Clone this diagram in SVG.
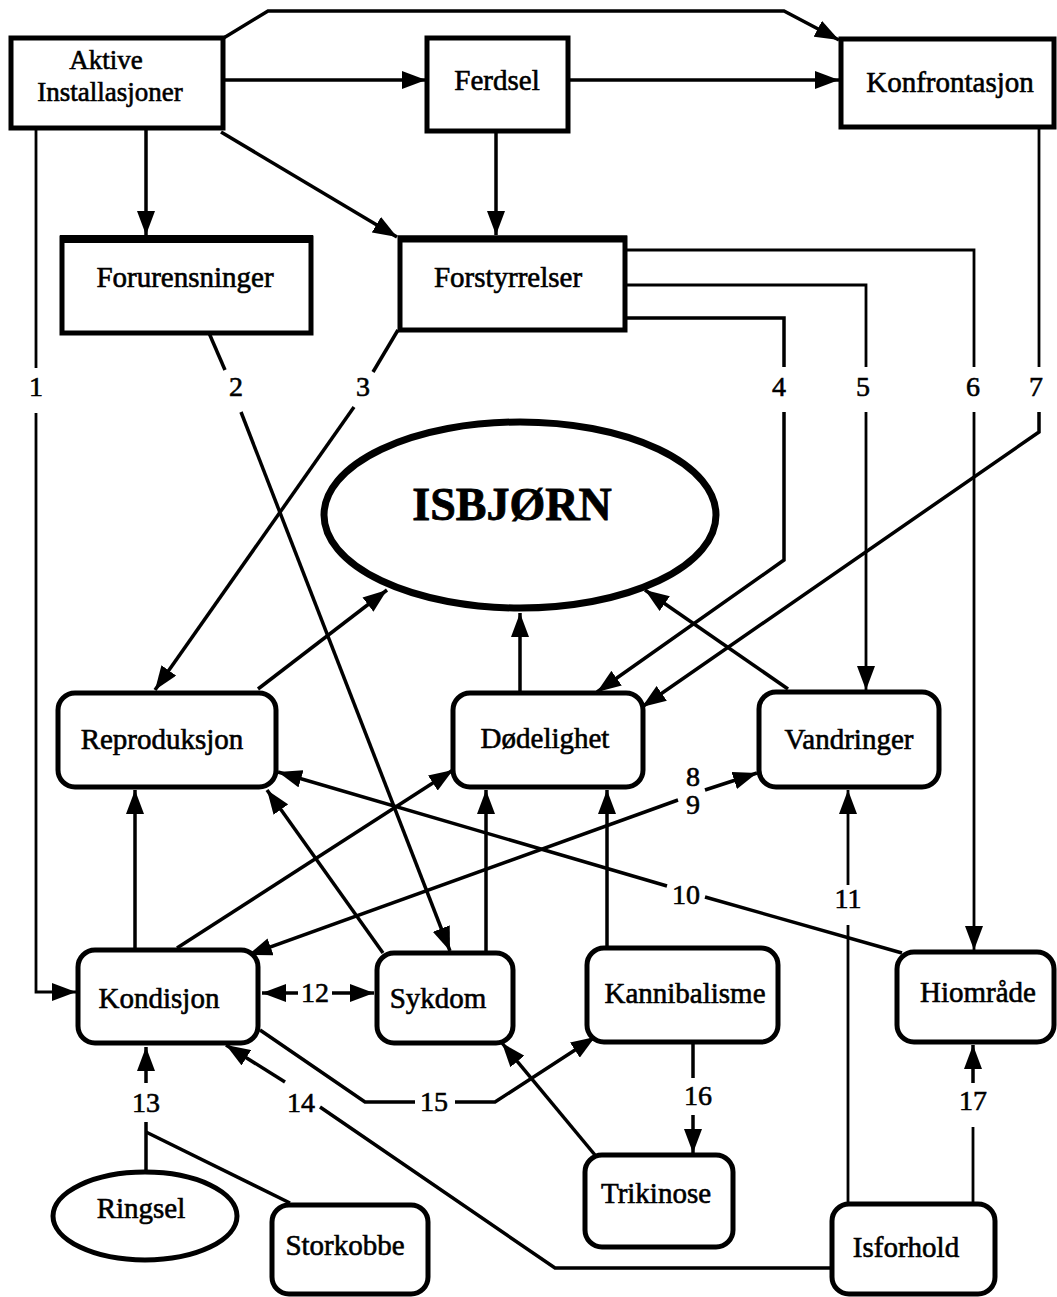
<svg xmlns="http://www.w3.org/2000/svg" width="1057" height="1297" viewBox="0 0 1057 1297">
  <defs>
    <style>
      text { font-family: "Liberation Serif", "Times New Roman", serif; fill: #000; stroke: #000; stroke-width: 0.6; }
      .lbl { font-size: 29px; text-anchor: middle; }
      .lbl2 { font-size: 27px; text-anchor: middle; }
      .num { font-size: 28px; text-anchor: middle; }
      .title { font-size: 46px; font-weight: bold; text-anchor: middle; stroke-width: 0.8; }
      .box { fill: #fff; stroke: #000; stroke-width: 5; }
      .rbox { fill: #fff; stroke: #000; stroke-width: 5; }
      .edge { fill: none; stroke: #000; stroke-width: 3.5; stroke-linejoin: miter; }
      .thin { stroke-width: 2.8; }
      .arr { marker-end: url(#head); }
    </style>
    <marker id="head" viewBox="0 0 24 18" refX="24" refY="9" markerWidth="24" markerHeight="18" markerUnits="userSpaceOnUse" orient="auto-start-reverse">
      <path d="M0,0 L24,9 L0,18 Z" fill="#000"/>
    </marker>
  </defs>

  <rect width="1057" height="1297" fill="#fff"/>

  <!-- connectors -->
  <g id="connectors">
    <!-- top row -->
    <path class="edge arr" d="M222,39 L268,11 L784,11 L839,40"/>
    <path class="edge arr" d="M223,80 H426"/>
    <path class="edge arr" d="M568,80 H839"/>
    <path class="edge arr" d="M146,128 V235"/>
    <path class="edge arr" d="M221,132 L397,237"/>
    <path class="edge arr" d="M496,133 V235"/>

    <!-- 1: Aktive Installasjoner -> Kondisjon -->
    <path class="edge thin" d="M36,128 V368"/>
    <path class="edge thin arr" d="M36,413 V992 H76"/>
    <!-- 2: Forurensninger -> Sykdom -->
    <path class="edge" d="M209,333 L225,370"/>
    <path class="edge arr" d="M241,412 L450,951"/>
    <!-- 3: Forstyrrelser -> Reproduksjon -->
    <path class="edge" d="M398,330 L373,372"/>
    <path class="edge arr" d="M354,407 L155,690"/>
    <!-- 4: Forstyrrelser -> Dødelighet -->
    <path class="edge" d="M625,318 H784 V367"/>
    <path class="edge arr" d="M784,412 V560 L597,692"/>
    <!-- 5: Forstyrrelser -> Vandringer -->
    <path class="edge thin" d="M625,285 H866 V367"/>
    <path class="edge thin arr" d="M866,412 V690"/>
    <!-- 6: Forstyrrelser -> Hiområde -->
    <path class="edge thin" d="M625,250 H974 V367"/>
    <path class="edge thin arr" d="M974,412 V950"/>
    <!-- 7: Konfrontasjon -> Dødelighet -->
    <path class="edge thin" d="M1039,127 V367"/>
    <path class="edge arr" d="M1039,412 V432 L642,707"/>

    <!-- into ISBJØRN -->
    <path class="edge arr" d="M258,689 L387,590"/>
    <path class="edge arr" d="M520,693 V613"/>
    <path class="edge arr" d="M788,689 L645,590"/>

    <!-- middle layer -->
    <path class="edge arr" d="M135,950 V790"/>
    <path class="edge arr" d="M177,948 L453,770"/>
    <path class="edge arr" d="M383,953 L267,790"/>
    <path class="edge arr" d="M486,953 V790"/>
    <path class="edge arr" d="M607,948 V790"/>

    <!-- 8 / 9: Kondisjon <-> Vandringer -->
    <path class="edge arr" d="M678,800 L248,955"/>
    <path class="edge arr" d="M705,790 L757,773"/>

    <!-- 10: Hiområde -> Reproduksjon -->
    <path class="edge" d="M902,953 L705,897"/>
    <path class="edge arr" d="M667,886 L278,772"/>

    <!-- 11: Isforhold -> Vandringer -->
    <path class="edge thin" d="M848,1204 V925"/>
    <path class="edge thin arr" d="M848,885 V790"/>

    <!-- 12: Kondisjon <-> Sykdom -->
    <path class="edge arr" d="M298,993 H262"/>
    <path class="edge arr" d="M332,993 H374"/>

    <!-- 13: Ringsel / Storkobbe -> Kondisjon -->
    <path class="edge arr" d="M146,1083 V1047"/>
    <path class="edge" d="M146,1172 V1122"/>
    <path class="edge" d="M146,1132 L290,1203"/>

    <!-- 14: Isforhold -> Kondisjon -->
    <path class="edge" d="M832,1268 H555 L320,1107"/>
    <path class="edge arr" d="M285,1082 L226,1045"/>

    <!-- 15: Kondisjon -> Kannibalisme -->
    <path class="edge" d="M260,1030 L365,1102 H415"/>
    <path class="edge arr" d="M455,1102 H495 L595,1037"/>

    <!-- 16: Kannibalisme -> Trikinose -->
    <path class="edge" d="M693,1043 V1078"/>
    <path class="edge arr" d="M693,1115 V1153"/>

    <!-- 17: Isforhold -> Hiområde -->
    <path class="edge thin" d="M973,1204 V1127"/>
    <path class="edge arr" d="M973,1083 V1045"/>

    <!-- Trikinose -> Sykdom -->
    <path class="edge arr" d="M595,1155 L502,1043"/>

    <!-- connector numbers -->
    <g class="num">
      <text x="36" y="396">1</text>
      <text x="236" y="396">2</text>
      <text x="363" y="396">3</text>
      <text x="779" y="396">4</text>
      <text x="863" y="396">5</text>
      <text x="973" y="396">6</text>
      <text x="1036" y="396">7</text>
      <text x="693" y="786">8</text>
      <text x="693" y="814">9</text>
      <text x="686" y="904">10</text>
      <text x="848" y="908">11</text>
      <text x="315" y="1002">12</text>
      <text x="146" y="1112">13</text>
      <text x="301" y="1112">14</text>
      <text x="434" y="1111">15</text>
      <text x="698" y="1105">16</text>
      <text x="973" y="1110">17</text>
    </g>
  </g>

  <!-- nodes -->
  <g id="aktive">
    <rect class="box" x="11" y="38" width="212" height="90"/>
    <text class="lbl2" x="106" y="69">Aktive</text>
    <text class="lbl2" x="110" y="101">Installasjoner</text>
  </g>
  <g id="ferdsel">
    <rect class="box" x="427" y="38" width="141" height="93"/>
    <text class="lbl" x="497" y="90">Ferdsel</text>
  </g>
  <g id="konfrontasjon">
    <rect class="box" x="841" y="39" width="213" height="88"/>
    <text class="lbl" x="950" y="92">Konfrontasjon</text>
  </g>
  <g id="forurensninger">
    <rect class="box" x="62" y="238" width="249" height="95"/>
    <line x1="60" y1="239" x2="313" y2="239" stroke="#000" stroke-width="8"/>
    <text class="lbl" x="185" y="287">Forurensninger</text>
  </g>
  <g id="forstyrrelser">
    <rect class="box" x="400" y="238" width="225" height="92"/>
    <line x1="398" y1="239" x2="627" y2="239" stroke="#000" stroke-width="7"/>
    <text class="lbl" x="508" y="287">Forstyrrelser</text>
  </g>
  <g id="isbjorn">
    <ellipse cx="520" cy="515" rx="196" ry="93" fill="#fff" stroke="#000" stroke-width="7"/>
    <text class="title" x="512" y="520">ISBJØRN</text>
  </g>
  <g id="reproduksjon">
    <rect class="rbox" x="58" y="693" width="218" height="94" rx="17"/>
    <text class="lbl" x="162" y="749">Reproduksjon</text>
  </g>
  <g id="dodelighet">
    <rect class="rbox" x="453" y="693" width="190" height="94" rx="17"/>
    <text class="lbl" x="545" y="748">Dødelighet</text>
  </g>
  <g id="vandringer">
    <rect class="rbox" x="759" y="692" width="180" height="95" rx="17"/>
    <text class="lbl" x="849" y="749">Vandringer</text>
  </g>
  <g id="kondisjon">
    <rect class="rbox" x="78" y="950" width="180" height="93" rx="17"/>
    <text class="lbl" x="159" y="1008">Kondisjon</text>
  </g>
  <g id="sykdom">
    <rect class="rbox" x="377" y="953" width="136" height="90" rx="17"/>
    <text class="lbl" x="438" y="1008">Sykdom</text>
  </g>
  <g id="kannibalisme">
    <rect class="rbox" x="587" y="948" width="191" height="94" rx="17"/>
    <text class="lbl" x="685" y="1003">Kannibalisme</text>
  </g>
  <g id="hiomrade">
    <rect class="rbox" x="897" y="952" width="157" height="90" rx="17"/>
    <text class="lbl" x="978" y="1002">Hiområde</text>
  </g>
  <g id="ringsel">
    <ellipse cx="145" cy="1216" rx="92" ry="44" fill="#fff" stroke="#000" stroke-width="5"/>
    <text class="lbl" x="141" y="1218">Ringsel</text>
  </g>
  <g id="storkobbe">
    <rect class="rbox" x="272" y="1205" width="156" height="89" rx="17"/>
    <text class="lbl" x="345" y="1255">Storkobbe</text>
  </g>
  <g id="trikinose">
    <rect class="rbox" x="585" y="1155" width="148" height="92" rx="17"/>
    <text class="lbl" x="656" y="1203">Trikinose</text>
  </g>
  <g id="isforhold">
    <rect class="rbox" x="832" y="1204" width="163" height="90" rx="17"/>
    <text class="lbl" x="906" y="1257">Isforhold</text>
  </g>
</svg>
